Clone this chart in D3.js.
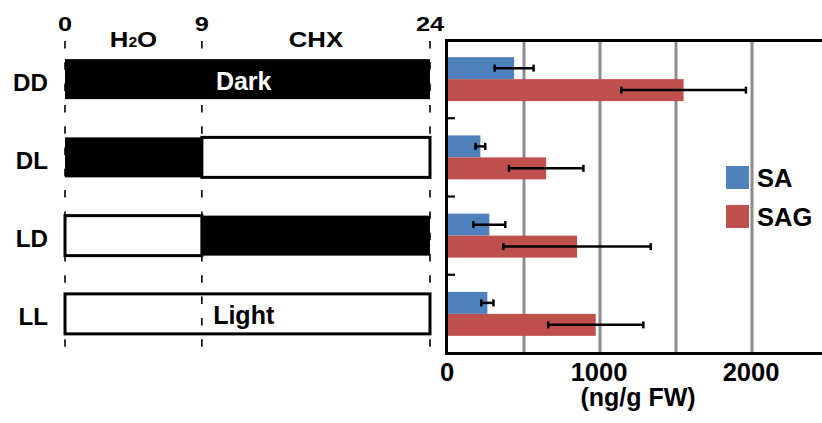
<!DOCTYPE html>
<html>
<head>
<meta charset="utf-8">
<script src="https://cdn.jsdelivr.net/npm/d3@7"></script>
<style>
	html, body { margin: 0; padding: 0; background: #fff; }
	svg { display: block; font-family: Arial, "Liberation Sans", sans-serif; font-weight: bold; }
</style>
</head>
<body>
<div id="chart"></div>
<script>
(function() {
	'use strict';

	// DATA //

	var rows = [ 'DD', 'DL', 'LD', 'LL' ],
		series = [ 'SA', 'SAG' ],
		saValues = [ 435, 213, 272, 259 ],
		saErrors = [ 128, 32, 105, 40 ],
		sagValues = [ 1550, 646, 849, 972 ],
		sagErrors = [ 410, 245, 485, 313 ],
		hourTicks = [ 0, 9, 24 ],
		phaseLabels = [ 'H2O', 'CHX' ],
		phaseBounds = [ [ 0, 9 ], [ 9, 24 ] ],
		// light regime per row: [ state, from, to ]
		schedule = [
			[ [ 'dark', 0, 24 ] ],
			[ [ 'dark', 0, 9 ], [ 'light', 9, 24 ] ],
			[ [ 'light', 0, 9 ], [ 'dark', 9, 24 ] ],
			[ [ 'light', 0, 24 ] ]
		],
		rowNotes = [ 'Dark', '', '', 'Light' ],
		xTicks = [ 0, 1000, 2000 ],
		gridValues = [ 500, 1000, 1500, 2000 ],
		colors = [ '#4f81bd', '#c0504d' ];


	// VARIABLES //

	var WIDTH = 822,
		HEIGHT = 423,
		TOP = 40,
		BOTTOM = 353,
		STRIP_H = 40;

	var svg = d3.select( '#chart' ).append( 'svg' )
		.attr( 'width', WIDTH )
		.attr( 'height', HEIGHT )
		.attr( 'viewBox', '0 0 ' + WIDTH + ' ' + HEIGHT );

	svg.append( 'rect' )
		.attr( 'width', WIDTH )
		.attr( 'height', HEIGHT )
		.attr( 'fill', '#fff' );

	// Shared row scale:
	var y = d3.scaleBand()
		.domain( rows )
		.range( [ TOP, BOTTOM ] );

	// Time scale (hours) for the left panel:
	var t = d3.scaleLinear()
		.domain( [ 0, 24 ] )
		.range( [ 65, 430 ] );

	// Concentration scale for the right panel:
	var x = d3.scaleLinear()
		.domain( [ 0, 2500 ] )
		.range( [ 448, 828 ] );

	var yInner = d3.scaleBand()
		.domain( series )
		.range( [ 0, y.bandwidth() ] )
		.paddingOuter( 0.78 );

	// The source figure has horizontally stretched lettering in its header:
	function stretch( px, py, sx ) {
		return 'translate(' + px + ',' + py + ') scale(' + sx + ',1)';
	}


	// LEFT PANEL //

	var left = svg.append( 'g' ).attr( 'class', 'schedule' );

	// Hour labels:
	left.selectAll( 'text.hour' )
		.data( hourTicks )
	  .enter().append( 'text' )
		.attr( 'class', 'hour' )
		.attr( 'transform', function( d ) { return stretch( t( d ), 31, 1.3 ); } )
		.attr( 'text-anchor', 'middle' )
		.attr( 'font-size', 19.5 )
		.text( function( d ) { return d; } );

	// Treatment labels:
	var phase = left.selectAll( 'text.phase' )
		.data( phaseLabels )
	  .enter().append( 'text' )
		.attr( 'class', 'phase' )
		.attr( 'transform', function( d, i ) {
			return stretch( t( ( phaseBounds[ i ][ 0 ] + phaseBounds[ i ][ 1 ] ) / 2 ), 47, 1.12 );
		})
		.attr( 'text-anchor', 'middle' )
		.attr( 'font-size', 23 );
	phase.each( function( d ) {
		var el = d3.select( this );
		if ( d === 'H2O' ) {
			el.append( 'tspan' ).text( 'H' );
			el.append( 'tspan' ).attr( 'font-size', 14 ).text( '2' );
			el.append( 'tspan' ).text( 'O' );
		} else {
			el.text( d );
		}
	});

	// Row labels:
	left.selectAll( 'text.row' )
		.data( rows )
	  .enter().append( 'text' )
		.attr( 'class', 'row' )
		.attr( 'transform', function( d ) { return stretch( 48, y( d ) + y.bandwidth() / 2 + 11.5, 1.05 ); } )
		.attr( 'text-anchor', 'end' )
		.attr( 'font-size', 23 )
		.text( function( d ) { return d; } );

	// Light / dark strips:
	var strip = left.selectAll( 'g.strip' )
		.data( rows )
	  .enter().append( 'g' )
		.attr( 'class', 'strip' )
		.attr( 'transform', function( d ) {
			return 'translate(0,' + ( y( d ) + ( y.bandwidth() - STRIP_H ) / 2 ) + ')';
		});

	strip.selectAll( 'rect' )
		.data( function( d, i ) { return schedule[ i ]; } )
	  .enter().append( 'rect' )
		.attr( 'x', function( d ) { return t( d[ 1 ] ); } )
		.attr( 'width', function( d ) { return t( d[ 2 ] ) - t( d[ 1 ] ); } )
		.attr( 'y', 0 )
		.attr( 'height', STRIP_H )
		.attr( 'fill', function( d ) { return d[ 0 ] === 'dark' ? '#000' : '#fff'; } )
		.attr( 'stroke', '#000' )
		.attr( 'stroke-width', function( d ) { return d[ 0 ] === 'dark' ? 0 : 3; } );

	// Dashed hour guides:
	left.selectAll( 'line.guide' )
		.data( hourTicks )
	  .enter().append( 'line' )
		.attr( 'class', 'guide' )
		.attr( 'x1', function( d ) { return t( d ); } )
		.attr( 'x2', function( d ) { return t( d ); } )
		.attr( 'y1', 41 )
		.attr( 'y2', 352 )
		.attr( 'stroke', '#000' )
		.attr( 'stroke-width', 1.6 )
		.attr( 'stroke-dasharray', '7.5,13.8' );

	// Notes inside strips:
	left.selectAll( 'text.note' )
		.data( rows )
	  .enter().append( 'text' )
		.attr( 'class', 'note' )
		.attr( 'x', t( 11.75 ) )
		.attr( 'y', function( d ) { return y( d ) + y.bandwidth() / 2 + 10.5; } )
		.attr( 'text-anchor', 'middle' )
		.attr( 'font-size', 25 )
		.attr( 'fill', function( d, i ) { return schedule[ i ][ 0 ][ 0 ] === 'dark' ? '#fff' : '#000'; } )
		.text( function( d, i ) { return rowNotes[ i ]; } );


	// RIGHT PANEL //

	var graph = svg.append( 'g' ).attr( 'class', 'graph' );

	// Gridlines:
	graph.selectAll( 'line.grid' )
		.data( gridValues )
	  .enter().append( 'line' )
		.attr( 'class', 'grid' )
		.attr( 'x1', function( d ) { return x( d ); } )
		.attr( 'x2', function( d ) { return x( d ); } )
		.attr( 'y1', TOP )
		.attr( 'y2', BOTTOM )
		.attr( 'stroke', '#8c8c8c' )
		.attr( 'stroke-width', 3 );

	// Bars:
	var groups = graph.selectAll( 'g.group' )
		.data( rows )
	  .enter().append( 'g' )
		.attr( 'class', 'group' )
		.attr( 'transform', function( d ) { return 'translate(0,' + y( d ) + ')'; } );

	var items = groups.selectAll( 'g.item' )
		.data( function( d, i ) {
			return [
				{ key: 'SA', value: saValues[ i ], err: saErrors[ i ], color: colors[ 0 ] },
				{ key: 'SAG', value: sagValues[ i ], err: sagErrors[ i ], color: colors[ 1 ] }
			];
		})
	  .enter().append( 'g' )
		.attr( 'class', 'item' );

	items.append( 'rect' )
		.attr( 'x', x( 0 ) )
		.attr( 'y', function( d ) { return yInner( d.key ); } )
		.attr( 'width', function( d ) { return x( d.value ) - x( 0 ); } )
		.attr( 'height', yInner.bandwidth() )
		.attr( 'fill', function( d ) { return d.color; } );

	// Error bars:
	function cy( d ) { return yInner( d.key ) + yInner.bandwidth() / 2; }

	items.append( 'line' )
		.attr( 'x1', function( d ) { return x( d.value - d.err ); } )
		.attr( 'x2', function( d ) { return x( d.value + d.err ); } )
		.attr( 'y1', cy )
		.attr( 'y2', cy )
		.attr( 'stroke', '#000' )
		.attr( 'stroke-width', 2.5 );

	[ -1, 1 ].forEach( function( s ) {
		items.append( 'line' )
			.attr( 'x1', function( d ) { return x( d.value + s * d.err ); } )
			.attr( 'x2', function( d ) { return x( d.value + s * d.err ); } )
			.attr( 'y1', function( d ) { return cy( d ) - 3.5; } )
			.attr( 'y2', function( d ) { return cy( d ) + 3.5; } )
			.attr( 'stroke', '#000' )
			.attr( 'stroke-width', 2.5 );
	});

	// Frame (top, left, bottom):
	graph.append( 'path' )
		.attr( 'd', 'M' + WIDTH + ',' + ( TOP + 0.5 ) + 'H' + 446.5 + 'V' + ( BOTTOM + 0.5 ) + 'H' + WIDTH )
		.attr( 'fill', 'none' )
		.attr( 'stroke', '#000' )
		.attr( 'stroke-width', 3 );

	// Category separator ticks:
	graph.selectAll( 'line.sep' )
		.data( rows.slice( 1 ) )
	  .enter().append( 'line' )
		.attr( 'class', 'sep' )
		.attr( 'x1', 446 )
		.attr( 'x2', 455 )
		.attr( 'y1', function( d ) { return y( d ); } )
		.attr( 'y2', function( d ) { return y( d ); } )
		.attr( 'stroke', '#000' )
		.attr( 'stroke-width', 2.2 );

	// X tick labels:
	graph.selectAll( 'text.xtick' )
		.data( xTicks )
	  .enter().append( 'text' )
		.attr( 'class', 'xtick' )
		.attr( 'x', function( d ) { return x( d ) - 1; } )
		.attr( 'y', 381 )
		.attr( 'text-anchor', 'middle' )
		.attr( 'font-size', 25.5 )
		.text( function( d ) { return d; } );

	graph.append( 'text' )
		.attr( 'x', 638 )
		.attr( 'y', 406 )
		.attr( 'text-anchor', 'middle' )
		.attr( 'font-size', 25 )
		.text( '(ng/g FW)' );

	// Legend:
	var legend = graph.selectAll( 'g.legend' )
		.data( series )
	  .enter().append( 'g' )
		.attr( 'class', 'legend' )
		.attr( 'transform', function( d, i ) { return 'translate(726,' + ( 166 + i * 39 ) + ')'; } );

	legend.append( 'rect' )
		.attr( 'width', 23 )
		.attr( 'height', 23 )
		.attr( 'fill', function( d, i ) { return colors[ i ]; } );

	legend.append( 'text' )
		.attr( 'x', 31 )
		.attr( 'y', 21 )
		.attr( 'font-size', 25.5 )
		.text( function( d ) { return d; } );

})();
</script>
</body>
</html>
